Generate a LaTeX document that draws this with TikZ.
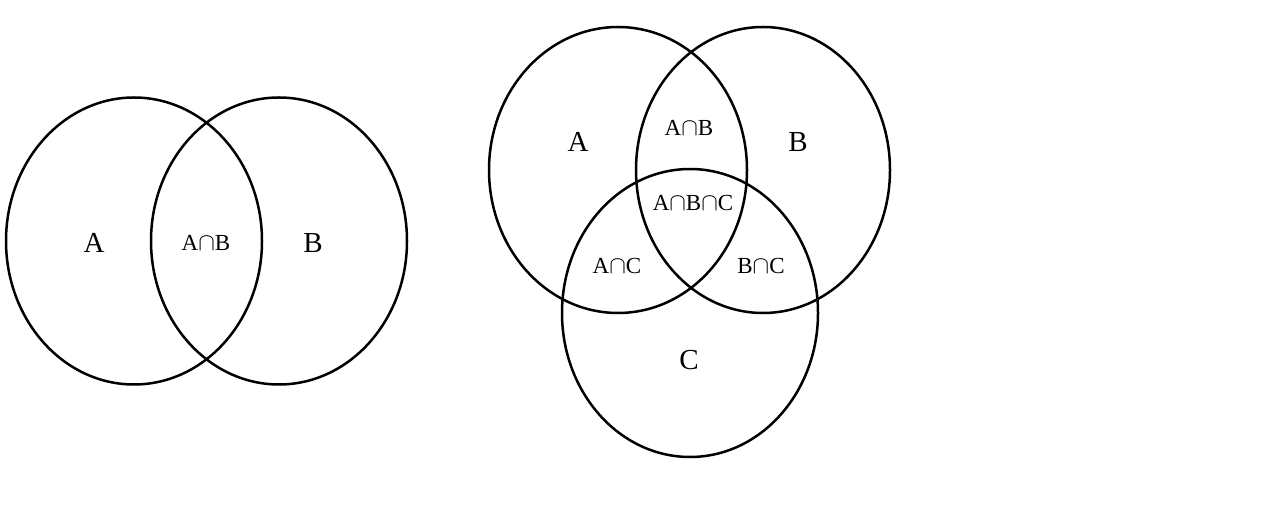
\documentclass[tikz,border=0pt]{standalone}
\usepackage{fontspec}
\setmainfont{Liberation Serif}
\begin{document}
\begin{tikzpicture}[x=1pt,y=-1pt,
  setc/.style={draw=black,line width=2.5pt},
  big/.style={font=\fontsize{29}{31}\selectfont,inner sep=0pt},
  small/.style={font=\fontsize{23}{25}\selectfont,inner sep=0pt}]
\useasboundingbox[fill=white] (0,0) rectangle (1288,510);
% left diagram
\draw[setc] (134,241) ellipse [x radius=128,y radius=143.5];
\draw[setc] (279,241) ellipse [x radius=128,y radius=143.5];
\node[big] (la) at (94,243) {A};
\node[small] (lab) at (206,243) {A$\cap$B};
\node[big] (lb) at (313,243) {B};
% right diagram
\draw[setc] (618,170) ellipse [x radius=129,y radius=143];
\draw[setc] (763,170) ellipse [x radius=127,y radius=143];
\draw[setc] (690,313) ellipse [x radius=128,y radius=144];
\node[big] (ra) at (578,142) {A};
\node[big] (rb) at (798,142) {B};
\node[big] (rc) at (689,360) {C};
\node[small] (rab) at (689,128) {A$\cap$B};
\node[small] (rabc) at (693,203) {A$\cap$B$\cap$C};
\node[small] (rac) at (617,266) {A$\cap$C};
\node[small] (rbc) at (761,266) {B$\cap$C};
\end{tikzpicture}
\end{document}
